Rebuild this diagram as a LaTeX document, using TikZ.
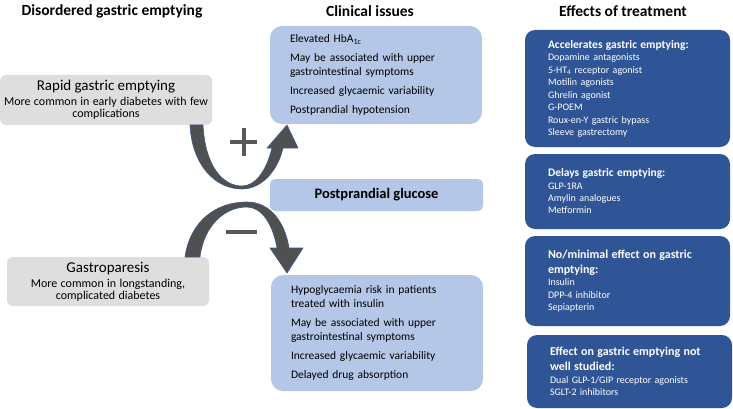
\documentclass[tikz,border=0pt]{standalone}
\usepackage{fontspec}
\setmainfont{Carlito}
\usepackage{tikz}
\usepackage{xcolor}
\usetikzlibrary{positioning, calc}

\definecolor{greybox}{HTML}{DEDEDE}
\definecolor{lightblue}{HTML}{B4C7E7}
\definecolor{darkblue}{HTML}{2F5597}
\definecolor{arrowgrey}{HTML}{505050}
\definecolor{arrowedge}{HTML}{3A5A8C}
\definecolor{signgrey}{HTML}{595959}

\newcommand{\headsize}{\fontsize{15}{15}\selectfont}
\newcommand{\subsize}{\fontsize{12}{15}\selectfont}
\newcommand{\treathead}{\fontsize{11.5}{14}\selectfont\bfseries}
\newcommand{\treatheadbig}{\fontsize{12}{15}\selectfont\bfseries}
\newcommand{\treatitem}{\fontsize{10}{12.5}\selectfont\mdseries}

\begin{document}
\begin{tikzpicture}[x=1pt, y=-1pt,
    title/.style={font=\fontsize{15.5}{18}\selectfont\bfseries},
    greyblock/.style={fill=greybox, rounded corners=6pt, align=center, inner sep=0pt},
    issuebox/.style={fill=lightblue, rounded corners=12pt, minimum width=212pt, text width=172pt,
        align=left, inner sep=0pt, font=\fontsize{11.5}{14}\selectfont},
    treatbox/.style={fill=darkblue, rounded corners=10pt, minimum width=205pt, text width=159pt,
        align=left, inner sep=0pt, text=white},
    crescent/.style={fill=arrowgrey, draw=arrowedge, line width=0.6pt, line join=round},
    sign/.style={draw=signgrey, line width=4pt}]
\useasboundingbox (0,0) rectangle (733,409);

% Column headings
\node[title] (hdisorder) at (112,11) {Disordered gastric emptying};
\node[title] (hissues) at (370,11) {Clinical issues};
\node[title] (htreat) at (623,11) {Effects of treatment};

% Disordered gastric emptying
\node[greyblock, minimum width=212pt, minimum height=50pt, text width=210pt] (rapid) at (106,100)
    {\headsize Rapid gastric emptying\\
     \subsize More common in early diabetes with few\\ complications};
\node[greyblock, minimum width=202pt, minimum height=49pt, text width=200pt] (paresis) at (108,281.5)
    {\headsize Gastroparesis\\
     \subsize More common in longstanding,\\ complicated diabetes};

% Clinical issues
\node[issuebox, minimum height=98pt] (rapidissues) at (376,75)
    {Elevated HbA\textsubscript{1c}\\[5pt]
     May be associated with upper\\ gastrointestinal symptoms\\[5pt]
     Increased glycaemic variability\\[5pt]
     Postprandial hypotension};
\node[fill=lightblue, rounded corners=5pt, minimum width=213pt, minimum height=32pt,
    font=\fontsize{14.5}{17}\selectfont\bfseries] (glucose) at (376.5,195) {Postprandial glucose\hspace{8pt}};
\node[issuebox, minimum height=116pt] (paresisissues) at (377,333)
    {Hypoglycaemia risk in patients\\ treated with insulin\\[5pt]
     May be associated with upper\\ gastrointestinal symptoms\\[5pt]
     Increased glycaemic variability\\[5pt]
     Delayed drug absorption};

% Effects of treatment
\node[treatbox, minimum height=117pt] (accel) at (627.5,88.5)
    {\treathead Accelerates gastric emptying:\\
     \treatitem Dopamine antagonists\\ 5-HT\textsubscript{4} receptor agonist\\ Motilin agonists\\
     Ghrelin agonist\\ G-POEM\\ Roux-en-Y gastric bypass\\ Sleeve gastrectomy};
\node[treatbox, minimum height=75pt] (delay) at (627.5,191.5)
    {\treathead Delays gastric emptying:\\
     \treatitem GLP-1RA\\ Amylin analogues\\ Metformin};
\node[treatbox, minimum height=90pt] (noeffect) at (627.5,281)
    {\treatheadbig No/minimal effect on gastric\\ emptying:\\
     \treatitem Insulin\\ DPP-4 inhibitor\\ Sepiapterin};
\node[treatbox, minimum height=73pt] (unknown) at (629.5,371.5)
    {\treatheadbig Effect on gastric emptying not\\ well studied:\\
     \treatitem Dual GLP-1/GIP receptor agonists\\ SGLT-2 inhibitors};

% Curved arrows into postprandial glucose
\fill[crescent] (190,125) .. controls (192,165) and (215,189) .. (242,189)
    .. controls (262,189) and (278,170) .. (283,148)
    -- (298,148) -- (287,125) -- (267,148) -- (272,148)
    .. controls (266,172) and (255,186) .. (242,186)
    .. controls (222,186) and (205,165) .. (203,125) -- cycle;
\fill[crescent] (185,257) .. controls (190,222) and (215,202) .. (247,202)
    .. controls (270,202) and (285,222) .. (289,248)
    -- (303,248) -- (287,273) -- (270,248) -- (277,248)
    .. controls (273,225) and (262,207) .. (247,207)
    .. controls (225,207) and (204,225) .. (200,257) -- cycle;

% Plus and minus signs
\draw[sign] (230,142) -- (257,142) (243.5,128) -- (243.5,156);
\draw[sign] (226,232) -- (257,232);
\end{tikzpicture}
\end{document}
